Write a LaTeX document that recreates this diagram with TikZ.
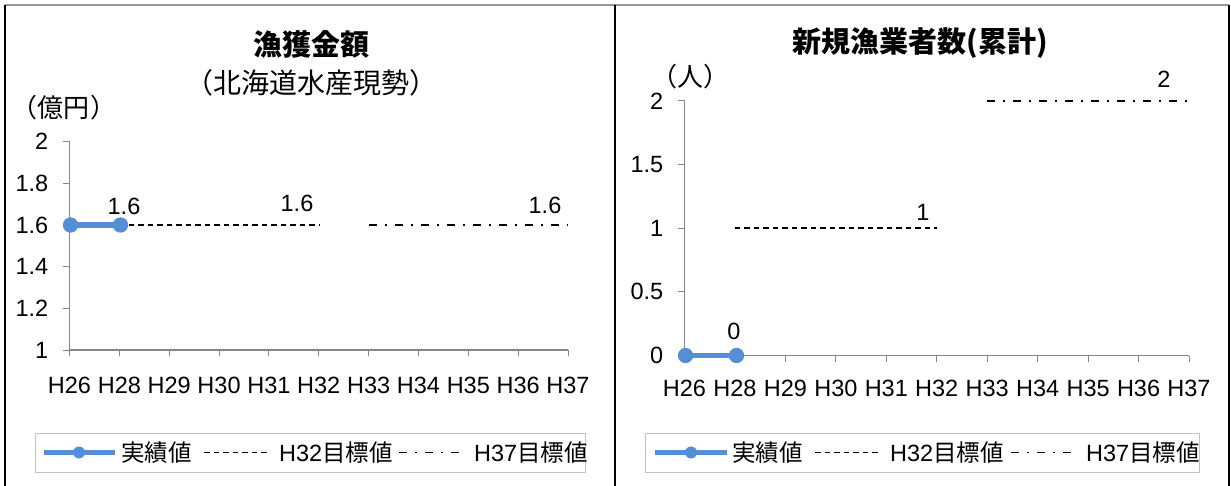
\documentclass[tikz,border=0pt]{standalone}
\usepackage{fontspec}
\setmainfont{Liberation Sans}
\newfontfamily\jp{Noto Sans CJK JP}
\definecolor{serblue}{RGB}{85,142,213}
\definecolor{axgray}{RGB}{134,134,134}
\definecolor{leggray}{RGB}{195,195,195}
\definecolor{framegray}{RGB}{150,150,150}
\tikzset{
  axisline/.style={axgray, line width=1.6pt},
  tickline/.style={axgray, line width=1pt},
  numlbl/.style={font=\fontsize{23.5}{25}\selectfont, inner sep=0pt},
  ticklbl/.style={font=\fontsize{23.5}{25}\selectfont, inner sep=0pt, anchor=east},
  catlbl/.style={font=\fontsize{23.5}{25}\selectfont, inner sep=0pt},
  dotmark/.style={circle, fill=serblue, minimum size=15pt, inner sep=0pt},
  legdot/.style={circle, fill=serblue, minimum size=12pt, inner sep=0pt},
  actual/.style={serblue, line width=5.5pt},
  legactual/.style={serblue, line width=5pt},
  tgtA/.style={black, line width=1.6pt, dash pattern=on 5.5pt off 4pt},
  tgtB/.style={black, line width=1.6pt, dash pattern=on 8pt off 8pt on 2pt off 8pt},
  legbox/.style={draw=leggray, line width=1pt},
  legtext/.style={font=\fontsize{23.5}{25}\selectfont, inner sep=0pt, anchor=west},
  ctitle/.style={font=\jp\bfseries\fontsize{29}{31}\selectfont, inner sep=0pt},
  csub/.style={font=\jp\fontsize{28}{30}\selectfont, inner sep=0pt},
  unitlbl/.style={font=\jp\fontsize{26}{28}\selectfont, inner sep=0pt},
  framev/.style={black, line width=1.3pt},
  frameh/.style={framegray, line width=1.3pt},
}
\begin{document}
\begin{tikzpicture}[x=1pt,y=-1pt]
\useasboundingbox (0,0) rectangle (1231,486);
% frames
\draw[frameh] (5,5) -- (1229,5);
\draw[framev] (5,5) -- (5,490);
\draw[framev] (615,5) -- (615,490);
\draw[framev] (1229,5) -- (1229,490);

% ================= LEFT CHART =================
\node[ctitle] (ltitle) at (311,44) {漁獲金額};
\node[csub] (lsub) at (311.5,82.5) {（北海道水産現勢）};
\node[unitlbl] (lunit) at (64,108) {（億円）};
% y ticks and labels
\foreach \v/\t in {1/1,1.2/1.2,1.4/1.4,1.6/1.6,1.8/1.8,2/2}{
  \pgfmathsetmacro{\yy}{350-(\v-1)*208.3}
  \draw[tickline] (63,\yy) -- (69.5,\yy);
  \node[ticklbl] at (48.5,\yy) {\t};
}
% x ticks and labels
\foreach \c [count=\i from 0] in {H26,H28,H29,H30,H31,H32,H33,H34,H35,H36,H37}{
  \pgfmathsetmacro{\xx}{69.5+49.85*\i}
  \draw[tickline] (\xx,350) -- (\xx,356);
  \node[catlbl] at (\xx,385) {\c};
}
\draw[axisline] (69.5,141.7) -- (69.5,350) -- (568,350);
% target lines
\coordinate (la1) at (119.35,225);
\coordinate (la2) at (318.9,225);
\coordinate (lb1) at (368.7,225);
\coordinate (lb2) at (568,225);
\draw[tgtA] (la1) -- (la2);
\draw[tgtB] (lb1) -- (lb2);
% actual
\node[dotmark] (lp1) at (70.5,225) {};
\node[dotmark] (lp2) at (120.5,225) {};
\draw[actual] (lp1.center) -- (lp2.center);
\node[dotmark] at (lp1) {};
\node[dotmark] at (lp2) {};
% data labels
\node[numlbl] (ld1) at (124,206) {1.6};
\node[numlbl] (ld2) at (297,203.5) {1.6};
\node[numlbl] (ld3) at (545,205) {1.6};
% legend
\node[legbox, minimum width=550pt, minimum height=39pt, inner sep=0pt] (lleg) at (310,452.5) {};
\coordinate (ll1) at (43.5,452.5);
\coordinate (ll2) at (114.7,452.5);
\draw[legactual] (ll1) -- (ll2);
\node[legdot] at (79,452.5) {};
\node[legtext] at (121,452.5) {\jp 実績値};
\coordinate (ll3) at (204,452.5);
\coordinate (ll4) at (269,452.5);
\draw[tgtA] (ll3) -- (ll4);
\node[legtext] at (279,452.5) {H32{\jp 目標値}};
\coordinate (ll5) at (399,452.5);
\coordinate (ll6) at (463,452.5);
\draw[tgtB] (ll5) -- (ll6);
\node[legtext] at (474,452.5) {H37{\jp 目標値}};

% ================= RIGHT CHART =================
\node[ctitle] (rtitle) at (920,43) {新規漁業者数(累計)};
\node[unitlbl] (runit) at (690,77) {（人）};
\foreach \v/\t in {0/0,0.5/0.5,1/1,1.5/1.5,2/2}{
  \pgfmathsetmacro{\yy}{355.5-\v*127.25}
  \draw[tickline] (678,\yy) -- (684.5,\yy);
  \node[ticklbl] at (663.5,\yy) {\t};
}
\foreach \c [count=\i from 0] in {H26,H28,H29,H30,H31,H32,H33,H34,H35,H36,H37}{
  \pgfmathsetmacro{\xx}{684.5+50.45*\i}
  \draw[tickline] (\xx,355.5) -- (\xx,361.5);
  \node[catlbl] at (\xx,388) {\c};
}
\draw[axisline] (684.5,101) -- (684.5,355.5) -- (1189,355.5);
\coordinate (ra1) at (734.95,228.25);
\coordinate (ra2) at (936.75,228.25);
\coordinate (rb1) at (987.2,101);
\coordinate (rb2) at (1189,101);
\draw[tgtA] (ra1) -- (ra2);
\draw[tgtB] (rb1) -- (rb2);
\node[dotmark] (rp1) at (685.5,355.5) {};
\node[dotmark] (rp2) at (736.5,355.5) {};
\draw[actual] (rp1.center) -- (rp2.center);
\node[dotmark] at (rp1) {};
\node[dotmark] at (rp2) {};
\node[numlbl] (rd1) at (734,331.5) {0};
\node[numlbl] (rd2) at (923,212.5) {1};
\node[numlbl] (rd3) at (1164,79.5) {2};
% legend
\node[legbox, minimum width=553.5pt, minimum height=39pt, inner sep=0pt] (rleg) at (922.25,452.5) {};
\coordinate (rl1) at (655,452.5);
\coordinate (rl2) at (727,452.5);
\draw[legactual] (rl1) -- (rl2);
\node[legdot] at (691,452.5) {};
\node[legtext] at (732,452.5) {\jp 実績値};
\coordinate (rl3) at (815,452.5);
\coordinate (rl4) at (880,452.5);
\draw[tgtA] (rl3) -- (rl4);
\node[legtext] at (890,452.5) {H32{\jp 目標値}};
\coordinate (rl5) at (1011,452.5);
\coordinate (rl6) at (1074,452.5);
\draw[tgtB] (rl5) -- (rl6);
\node[legtext] at (1086,452.5) {H37{\jp 目標値}};
\end{tikzpicture}
\end{document}
